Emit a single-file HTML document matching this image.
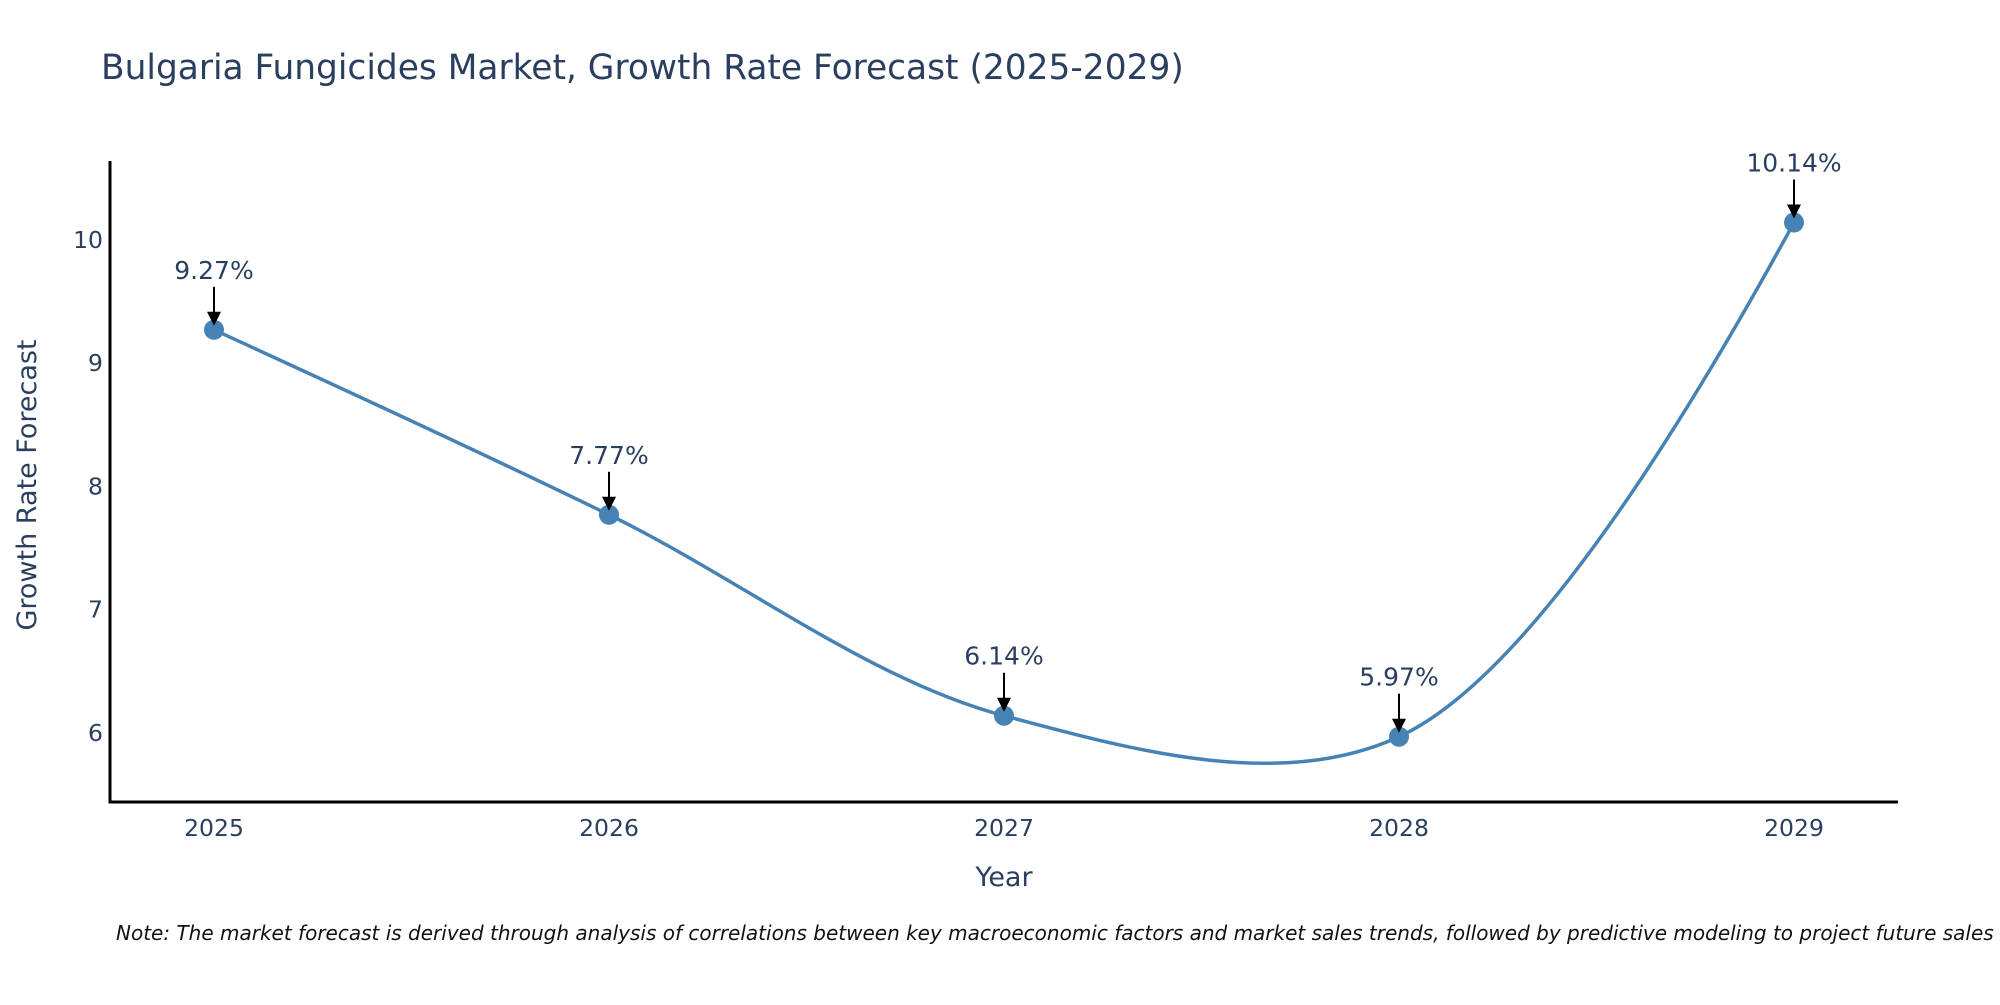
<!DOCTYPE html>
<html><head><meta charset="utf-8"><style>
body{margin:0;background:#fff;}
svg text{font-family:"DejaVu Sans","Liberation Sans",sans-serif;}
</style></head><body>
<svg width="2000" height="1000" xmlns="http://www.w3.org/2000/svg" id="chart">
<text x="101" y="79" font-size="34.4" fill="#2a3f5f">Bulgaria Fungicides Market, Growth Rate Forecast (2025-2029)</text>
<g id="axes"></g>
<g id="marks"></g>
<text x="1004" y="886" font-size="27" fill="#2a3f5f" text-anchor="middle">Year</text>
<text transform="translate(36,485) rotate(-90)" font-size="27" fill="#2a3f5f" text-anchor="middle">Growth Rate Forecast</text>
<text x="116" y="940" font-size="20" font-style="italic" fill="#111">Note: The market forecast is derived through analysis of correlations between key macroeconomic factors and market sales trends, followed by predictive modeling to project future sales</text>
</svg>
<script>
const years = ["2025","2026","2027","2028","2029"];
const values = [9.27, 7.77, 6.14, 5.97, 10.14];
const yTicks = [6, 7, 8, 9, 10];
const labels = ["9.27%","7.77%","6.14%","5.97%","10.14%"];

const NS="http://www.w3.org/2000/svg";
const xL=110, xR=1898, yB=802, yT=161;
const x0=214, dx=395;
function xs(i){return x0+i*dx;}
function ys(v){return 733-(v-6)*123.3;}
function mk(tag,attrs,parent){const e=document.createElementNS(NS,tag);for(const k in attrs)e.setAttribute(k,attrs[k]);parent.appendChild(e);return e;}
const axes=document.getElementById('axes'), marks=document.getElementById('marks');
let a=mk('line',{x1:xL,y1:yT,x2:xL,y2:yB+1.5,stroke:'#000','stroke-width':3},axes);


a=mk('line',{x1:xL-1.5,y1:yB,x2:xR,y2:yB,stroke:'#000','stroke-width':3},axes);


yTicks.forEach(t=>{const e=mk('text',{x:xL-7,y:ys(t)+8,'font-size':23.5,fill:'#2a3f5f','text-anchor':'end'},axes);e.textContent=t;

});
years.forEach((y,i)=>{const e=mk('text',{x:xs(i),y:yB+34,'font-size':23.5,fill:'#2a3f5f','text-anchor':'middle'},axes);e.textContent=y;

});
const pts=values.map((v,i)=>[xs(i),ys(v)]);
function tan(p,t,n){const d1x=p[0]-t[0],d1y=p[1]-t[1],d2x=n[0]-t[0],d2y=n[1]-t[1];
const d1a=Math.pow(d1x*d1x+d1y*d1y,0.25),d2a=Math.pow(d2x*d2x+d2y*d2y,0.25);
const nx=(d2a*d2a*d1x-d1a*d1a*d2x),ny=(d2a*d2a*d1y-d1a*d1a*d2y);
const den1=3*d2a*(d1a+d2a),den2=3*d1a*(d1a+d2a);
return [[t[0]+nx/den1,t[1]+ny/den1],[t[0]-nx/den2,t[1]-ny/den2]];}
const tg=[];for(let i=1;i<pts.length-1;i++)tg.push(tan(pts[i-1],pts[i],pts[i+1]));
let d='M'+pts[0]+'Q'+tg[0][0]+' '+pts[1];
for(let i=1;i<pts.length-2;i++)d+='C'+tg[i-1][1]+' '+tg[i][0]+' '+pts[i+1];
d+='Q'+tg[tg.length-1][1]+' '+pts[pts.length-1];
const line=mk('path',{d:d,fill:'none',stroke:'#4682B4','stroke-width':3.5},marks);


pts.forEach((p,i)=>{
const c=mk('circle',{cx:p[0],cy:p[1],r:10,fill:'#4682B4'},marks);


const l=mk('line',{x1:p[0],y1:p[1]-43,x2:p[0],y2:p[1]-16,stroke:'#000','stroke-width':2},marks);


const h=mk('polygon',{points:`${p[0]-7},${p[1]-18} ${p[0]+7},${p[1]-18} ${p[0]},${p[1]-4}`,fill:'#000'},marks);


const t=mk('text',{x:p[0],y:p[1]-51,'font-size':25,fill:'#2a3f5f','text-anchor':'middle'},marks);t.textContent=labels[i];


});
</script>
</body></html>
